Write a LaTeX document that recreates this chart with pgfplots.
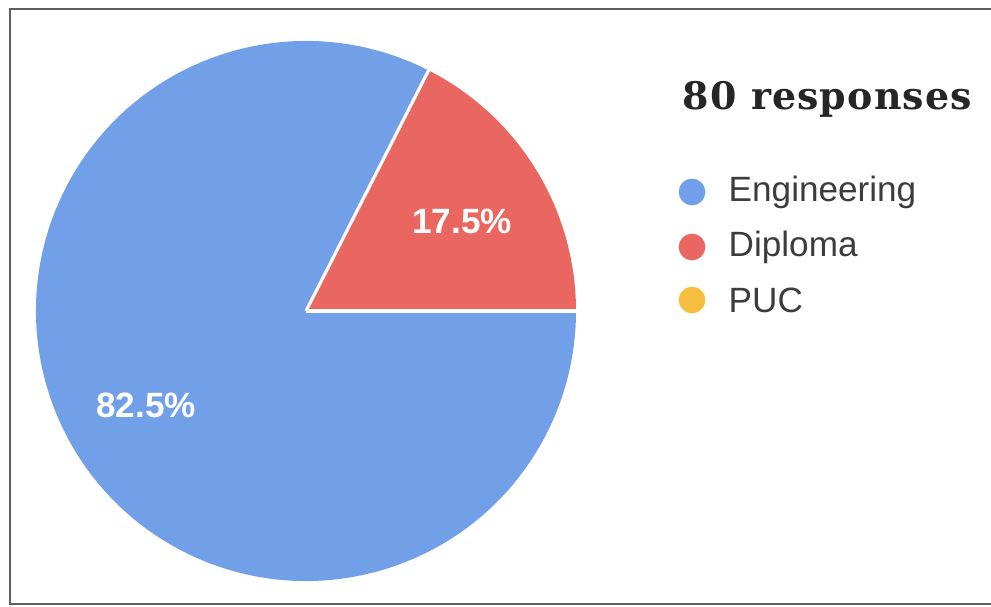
\documentclass[border=0pt]{standalone}
\usepackage{pgfplots}
\usepackage{pgfplotstable}
\pgfplotsset{compat=1.18}
\usepackage{fontspec}
\setmainfont{Liberation Sans}
\newfontfamily\titlefont[LetterSpace=3]{DejaVu Serif}
\definecolor{engblue}{RGB}{114,160,232}
\definecolor{diplred}{RGB}{233,103,96}
\definecolor{pucyel}{RGB}{246,190,62}
\definecolor{framegray}{RGB}{95,95,95}
\definecolor{txtgray}{RGB}{60,60,60}

\pgfplotstableread{
label value
Engineering 82.5
Diploma 17.5
PUC 0
}\responses

\begin{document}
\begin{tikzpicture}
\pgfplotstablegetelem{0}{value}\of\responses
\let\vEng\pgfplotsretval
\pgfplotstablegetelem{1}{value}\of\responses
\let\vDip\pgfplotsretval
\pgfmathsetmacro\aDip{3.6*\vDip}
\path[use as bounding box] (0,0) rectangle (9.91cm,6.06cm);
\begin{axis}[at={(0,0)},anchor=south west, scale only axis,
  width=9.91cm, height=6.06cm, xmin=0, xmax=991, ymin=0, ymax=606,
  hide axis, clip=false]
% pie wedges, angles from the table values
\fill[engblue] (axis cs:306,295) -- ++(\aDip:2.7cm) arc[start angle=\aDip, end angle=360, radius=2.7cm] -- cycle;
\fill[diplred] (axis cs:306,295) -- ++(0:2.7cm) arc[start angle=0, end angle=\aDip, radius=2.7cm] -- cycle;
\draw[white, line width=0.9pt] (axis cs:306,295) -- ++(0:2.72cm);
\draw[white, line width=0.9pt] (axis cs:306,295) -- ++(\aDip:2.72cm);
% percentage labels
\node[white, font=\bfseries\fontsize{10}{12}\selectfont] at (axis cs:462,385) {17.5\%};
\node[white, font=\bfseries\fontsize{10}{12}\selectfont] at (axis cs:146,201) {82.5\%};
% title
\node[anchor=base west, inner sep=0pt, text=black!85, font=\titlefont\bfseries\fontsize{10.8}{13}\selectfont] at (axis cs:682,496) {80 responses};
% legend markers
\addplot[only marks, mark=*, mark size=3.6pt, draw=engblue, fill=engblue] coordinates {(692,414)};
\addplot[only marks, mark=*, mark size=3.6pt, draw=diplred, fill=diplred] coordinates {(692,359)};
\addplot[only marks, mark=*, mark size=3.6pt, draw=pucyel, fill=pucyel] coordinates {(692,306)};
\node[anchor=west, inner sep=0pt, text=txtgray, font=\fontsize{10}{12}\selectfont] at (axis cs:728,414) {Engineering};
\node[anchor=west, inner sep=0pt, text=txtgray, font=\fontsize{10}{12}\selectfont] at (axis cs:728,359) {Diploma};
\node[anchor=west, inner sep=0pt, text=txtgray, font=\fontsize{10}{12}\selectfont] at (axis cs:728,306) {PUC};
% frame
\draw[framegray, line width=0.55pt] (axis cs:991,597) -- (axis cs:10,597) -- (axis cs:10,2) -- (axis cs:991,2);
\end{axis}
\end{tikzpicture}
\end{document}
